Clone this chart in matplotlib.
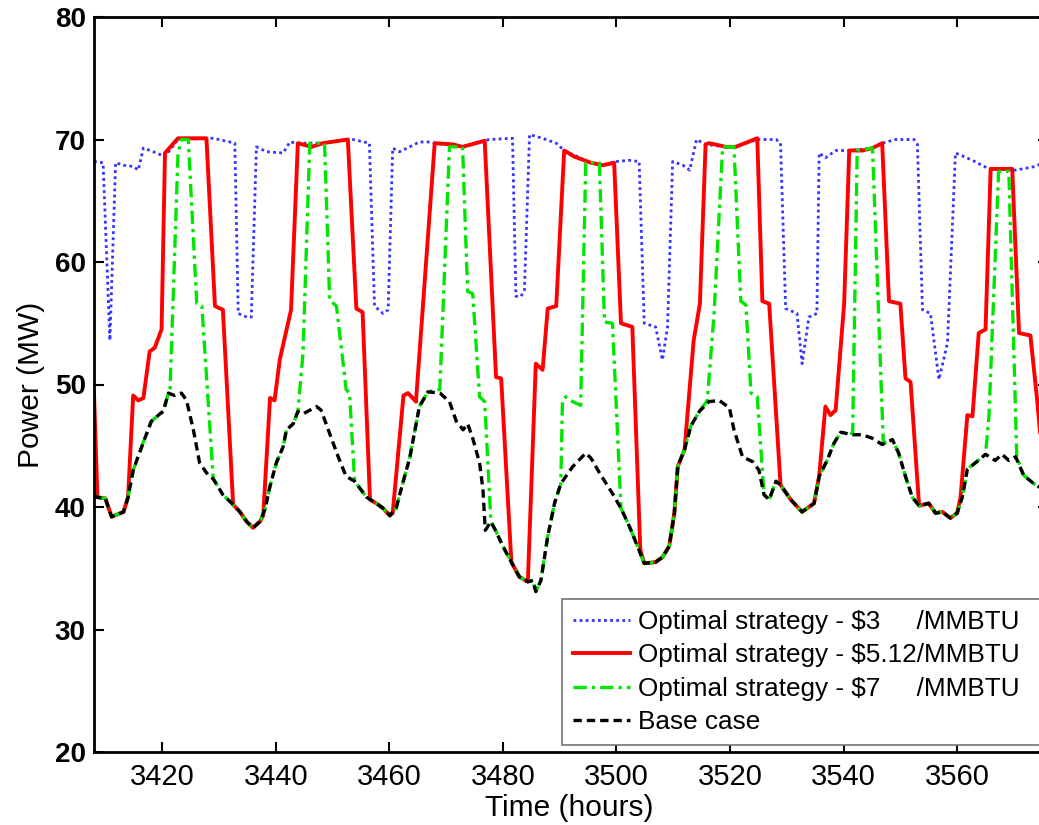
import numpy as np
import matplotlib
matplotlib.use("Agg")
import matplotlib.pyplot as plt

plt.rcParams['font.family'] = ['Liberation Sans', 'DejaVu Sans']

# (hour, MW) points
base_case = [
    (3408, 41.0), (3408.5, 40.8), (3410, 40.7), (3411.1, 39.2), (3413.2, 39.6), (3414, 40.8),
    (3414.9, 43.0), (3416.7, 45.3), (3418.1, 47.0), (3419.6, 47.6), (3420.2, 47.8), (3421.1, 49.3),
    (3422.2, 49.1), (3423.4, 49.3), (3424.3, 48.7), (3425.5, 46.3), (3426.6, 43.6), (3428.1, 42.6),
    (3429, 42.3), (3430.7, 41.0), (3432.5, 40.2), (3433.7, 39.6), (3434.9, 38.8), (3436, 38.3),
    (3437.2, 38.8), (3438.1, 39.8), (3439, 41.7), (3440.1, 43.6), (3441.3, 44.9), (3441.9, 46.3),
    (3443.1, 46.8), (3443.9, 47.8), (3444.8, 47.6), (3446, 47.9), (3447.2, 48.2), (3448, 47.9),
    (3449.5, 46.0), (3451, 44.1), (3452.4, 42.5), (3453.9, 42.1), (3456, 40.8), (3457.7, 40.3),
    (3458.9, 39.9), (3460.1, 39.3), (3461.2, 39.9), (3462.7, 42.5), (3463.6, 44.0), (3465.3, 48.2),
    (3466.8, 49.4), (3468.9, 49.3), (3470.6, 48.6), (3471.8, 47.0), (3473, 46.3), (3473.8, 46.8),
    (3474.7, 45.6), (3475.9, 43.6), (3476.5, 41.4), (3476.9, 38.1), (3477.9, 38.8), (3478.8, 38.0),
    (3480, 36.8), (3481.5, 35.5), (3482.9, 34.3), (3484.4, 33.9), (3485.3, 34.0), (3485.8, 33.1),
    (3486.7, 34.0), (3487.9, 37.6), (3489.1, 40.3), (3490.2, 41.9), (3492.3, 43.3), (3494.6, 44.4),
    (3495.5, 44.0), (3497, 42.8), (3499.3, 41.1), (3500.8, 39.9), (3502.3, 38.4), (3503.7, 36.8),
    (3504.9, 35.4), (3506.9, 35.5), (3508.1, 35.9), (3509.3, 36.8), (3510.2, 39.5), (3510.8, 43.3),
    (3512, 44.7), (3513.1, 46.6), (3514.6, 47.8), (3516.3, 48.6), (3518.1, 48.7), (3519.9, 48.1),
    (3520.7, 46.3), (3522.2, 44.1), (3524, 43.7), (3525.1, 43.0), (3526, 41.0), (3526.9, 40.6),
    (3528.1, 42.1), (3528.9, 41.8), (3530.7, 40.6), (3532.7, 39.6), (3534.8, 40.3), (3535.7, 42.5),
    (3537.1, 43.8), (3538.3, 45.2), (3539.5, 46.1), (3541.6, 45.9), (3543.3, 45.9), (3545.1, 45.6),
    (3546.8, 45.1), (3548.6, 45.5), (3549.7, 44.4), (3550.9, 42.5), (3552.1, 40.8), (3553.3, 40.1),
    (3555, 40.3), (3556.2, 39.5), (3557.4, 39.6), (3558.8, 39.1), (3560, 39.5), (3560.9, 40.8),
    (3561.8, 43.1), (3563.2, 43.6), (3565, 44.3), (3566.7, 43.8), (3567.9, 44.3), (3569.1, 43.8),
    (3570.3, 44.1), (3571.7, 42.6), (3573.5, 41.9), (3576, 41.2),
]

opt_512 = [
    (3408, 49.3), (3408.6, 40.8), (3410, 40.7), (3411.1, 39.2), (3413.2, 39.6), (3414, 40.8),
    (3414.9, 49.1), (3415.8, 48.7), (3416.7, 48.9), (3417.8, 52.7), (3418.7, 53.0), (3419.9, 54.5),
    (3420.5, 68.9), (3422.8, 70.1), (3427.8, 70.1), (3429.3, 56.4), (3430.7, 56.1), (3432.5, 40.2),
    (3433.7, 39.6), (3434.9, 38.8), (3436, 38.3), (3437.2, 38.8), (3437.8, 39.3), (3439, 48.9),
    (3439.8, 48.7), (3440.7, 52.0), (3442.7, 56.1), (3443.9, 69.7), (3446.3, 69.4), (3448.3, 69.7),
    (3452.7, 70.0), (3454.2, 56.2), (3455.3, 55.9), (3456.6, 40.6), (3457.7, 40.3), (3458.9, 39.9),
    (3460.1, 39.3), (3460.6, 39.5), (3462.5, 49.1), (3463.3, 49.3), (3464.7, 48.6), (3468, 69.7),
    (3471.2, 69.6), (3472.9, 69.4), (3476.8, 69.9), (3478.8, 50.6), (3479.7, 50.5), (3481.5, 35.5),
    (3482.9, 34.3), (3484.4, 33.9), (3485.8, 51.7), (3487, 51.2), (3487.9, 56.2), (3489.4, 56.4),
    (3490.8, 69.1), (3492.6, 68.6), (3495.5, 68.1), (3497.6, 67.9), (3499.6, 68.1), (3500.8, 55.0),
    (3502.8, 54.7), (3504.2, 36.5), (3504.9, 35.4), (3506.9, 35.5), (3508.1, 35.9), (3509.3, 36.8),
    (3510.2, 39.5), (3510.8, 43.3), (3512, 44.7), (3513.6, 53.6), (3514.7, 56.6), (3515.7, 69.6),
    (3516.3, 69.7), (3519.3, 69.4), (3521, 69.4), (3524.8, 70.1), (3525.7, 56.8), (3526.9, 56.6),
    (3528.9, 41.8), (3530.7, 40.6), (3532.7, 39.6), (3534.8, 40.3), (3535.7, 42.5), (3536.8, 48.2),
    (3537.7, 47.5), (3538.6, 47.9), (3540.1, 56.6), (3541, 69.1), (3543.3, 69.1), (3545.1, 69.3),
    (3546.8, 69.7), (3548, 56.8), (3550, 56.6), (3550.9, 50.5), (3551.8, 50.2), (3553.3, 40.1),
    (3555, 40.3), (3556.2, 39.5), (3557.4, 39.6), (3558.8, 39.1), (3560, 39.5), (3560.6, 40.8),
    (3561.8, 47.5), (3562.7, 47.4), (3563.8, 54.2), (3565, 54.5), (3565.9, 67.6), (3569.7, 67.6),
    (3570.9, 54.2), (3572.9, 54.0), (3574.1, 48.7), (3575, 44.0), (3576, 41.5),
]

opt_7 = [
    (3408, 41.0), (3408.5, 40.8), (3410, 40.7), (3411.1, 39.2), (3413.2, 39.6), (3414, 40.8),
    (3414.9, 43.0), (3416.7, 45.3), (3418.1, 47.0), (3419.6, 47.6), (3420.2, 47.8), (3421.1, 49.3),
    (3421.4, 49.7), (3422.8, 68.9), (3423.4, 70.0), (3424.6, 70.0), (3426.1, 56.6), (3427, 56.4),
    (3429, 42.3), (3430.7, 41.0), (3432.5, 40.2), (3433.7, 39.6), (3434.9, 38.8), (3436, 38.3),
    (3437.2, 38.8), (3438.1, 39.8), (3439, 41.7), (3440.1, 43.6), (3441.3, 44.9), (3441.9, 46.3),
    (3443.1, 46.8), (3443.9, 47.8), (3444.8, 52.5), (3446, 69.7), (3448.6, 69.7), (3449.5, 56.9),
    (3450.7, 56.4), (3452.4, 49.6), (3453, 49.3), (3453.9, 42.1), (3456, 40.8), (3457.7, 40.3),
    (3458.9, 39.9), (3460.1, 39.3), (3461.2, 39.9), (3462.7, 42.5), (3463.6, 44.0), (3465.3, 48.2),
    (3466.8, 49.4), (3468.9, 49.6), (3470.6, 69.4), (3472.9, 69.4), (3473.8, 57.6), (3474.7, 57.4),
    (3475.9, 49.0), (3476.8, 48.6), (3477.9, 38.8), (3478.8, 38.0), (3480, 36.8), (3481.5, 35.5),
    (3482.9, 34.3), (3484.4, 33.9), (3485.3, 34.0), (3485.8, 33.1), (3486.7, 34.0), (3487.9, 37.6),
    (3489.1, 40.3), (3490.2, 41.9), (3490.5, 48.7), (3491.1, 49.0), (3492.3, 48.6), (3493.7, 48.3),
    (3494.6, 68.1), (3497, 68.1), (3497.9, 55.1), (3499.3, 55.0), (3500.8, 39.9), (3502.3, 38.4),
    (3503.7, 36.8), (3504.9, 35.4), (3506.9, 35.5), (3508.1, 35.9), (3509.3, 36.8), (3510.2, 39.5),
    (3510.8, 43.3), (3512, 44.7), (3513.1, 46.6), (3514.6, 47.8), (3516, 48.7), (3517.2, 55.8),
    (3518.7, 69.4), (3520.7, 69.4), (3521.9, 56.8), (3522.8, 56.5), (3523.7, 49.3), (3524.8, 49.0),
    (3526, 41.0), (3526.9, 40.6), (3528.1, 42.1), (3528.9, 41.8), (3530.7, 40.6), (3532.7, 39.6),
    (3534.8, 40.3), (3535.7, 42.5), (3537.1, 43.8), (3538.3, 45.2), (3539.5, 46.1), (3541.6, 46.0),
    (3542.4, 69.1), (3545.1, 69.3), (3547, 45.2), (3548.6, 45.5), (3549.7, 44.4), (3550.9, 42.5),
    (3552.1, 40.8), (3553.3, 40.1), (3555, 40.3), (3556.2, 39.5), (3557.4, 39.6), (3558.8, 39.1),
    (3560, 39.5), (3560.9, 40.8), (3561.8, 43.1), (3563.2, 43.6), (3565, 44.3), (3565.6, 47.4),
    (3567.3, 67.4), (3569.1, 67.4), (3570.5, 44.1), (3571.7, 42.6), (3573.5, 41.9), (3576, 41.2),
]

opt_3 = [
    (3408, 68.2), (3409.6, 68.1), (3410.8, 53.6), (3411.8, 68.1), (3413.2, 67.9), (3414.9, 67.8),
    (3415.8, 67.5), (3416.7, 69.3), (3419, 68.9), (3420.5, 68.6), (3422.8, 70.0), (3427.8, 70.1),
    (3429, 70.1), (3431.9, 69.8), (3432.8, 69.7), (3433.4, 55.8), (3434.9, 55.5), (3435.7, 55.5),
    (3436.6, 69.4), (3438.4, 69.0), (3441.3, 68.9), (3442.5, 69.8), (3443.9, 69.7), (3448.3, 69.7),
    (3452.7, 70.0), (3453.6, 70.0), (3456.5, 69.7), (3457.4, 56.4), (3458.9, 55.8), (3459.8, 56.1),
    (3460.6, 69.3), (3461.8, 69.0), (3463.6, 69.4), (3465.3, 69.8), (3467.1, 69.8), (3468, 69.7),
    (3472.9, 69.4), (3477.6, 70.0), (3481.7, 70.1), (3482.3, 57.2), (3483.2, 57.2), (3483.8, 57.7),
    (3484.7, 70.4), (3487, 70.1), (3489.4, 69.7), (3490.8, 69.1), (3495.5, 68.1), (3497.6, 67.9),
    (3499.9, 68.2), (3502.3, 68.3), (3504, 68.2), (3504.9, 55.0), (3506.9, 54.7), (3508.1, 52.0),
    (3509, 54.7), (3509.9, 68.2), (3511.7, 67.9), (3512.9, 67.5), (3514.1, 70.0), (3515.7, 69.6),
    (3519.3, 69.4), (3521, 69.4), (3524.8, 70.0), (3528.1, 70.0), (3528.9, 69.7), (3529.8, 56.2),
    (3531.8, 55.8), (3532.7, 51.7), (3533.9, 55.5), (3535.3, 55.8), (3535.7, 68.9), (3536.8, 68.5),
    (3538.6, 69.1), (3541, 69.1), (3545.1, 69.3), (3546.8, 69.7), (3549.1, 70.0), (3552.4, 70.0),
    (3553, 69.6), (3553.9, 56.1), (3555.3, 55.8), (3556.8, 50.4), (3558.3, 53.4), (3559.7, 68.9),
    (3562.7, 68.3), (3565.6, 67.6), (3570.3, 67.5), (3573.8, 67.8), (3576, 68.3),
]

labels = [
    r"Optimal strategy - \$3     /MMBTU",
    r"Optimal strategy - \$5.12/MMBTU",
    r"Optimal strategy - \$7     /MMBTU",
    "Base case",
]

x_ticks = [3420, 3440, 3460, 3480, 3500, 3520, 3540, 3560]
y_ticks = [20, 30, 40, 50, 60, 70, 80]


def xy(points):
    arr = np.array(points)
    return arr[:, 0], arr[:, 1]


fig = plt.figure(figsize=(10.39, 8.25), dpi=100)
# axes run a bit past the right edge of the figure, as in the cropped original
ax = fig.add_axes([94 / 1039, 73 / 825, 954 / 1039, 735 / 825])

h, v = xy(opt_3)
ax.plot(h, v, color=(0.2, 0.2, 1.0), linestyle=(0, (1, 1.2)), lw=2.0, label=labels[0])
h, v = xy(opt_512)
ax.plot(h, v, color='red', linestyle='-', lw=2.8, label=labels[1])
h, v = xy(opt_7)
ax.plot(h, v, color=(0.0, 0.9, 0.0), linestyle=(0, (4, 1.5, 1, 1.5)), lw=2.4, label=labels[2])
h, v = xy(base_case)
ax.plot(h, v, color='black', linestyle=(0, (2.5, 1.5)), lw=2.4, label=labels[3])

ax.set_xlim(3408, 3576)
ax.set_ylim(20, 80)
ax.set_xticks(x_ticks)
ax.set_yticks(y_ticks)
ax.tick_params(direction='in', length=7, width=1.5, top=True, right=True)
ax.tick_params(axis='x', labelsize=21, pad=8)
ax.tick_params(axis='y', labelsize=20, pad=6)
for t in ax.get_yticklabels():
    t.set_fontweight('bold')
for s in ax.spines.values():
    s.set_linewidth(2.0)

ax.set_xlabel("Time (hours)", fontsize=21.5)
ax.set_ylabel("Power (MW)", fontsize=21.5)
ax.xaxis.set_label_coords(0.498, -0.057)
ax.yaxis.set_label_coords(-0.051, 0.5)

leg = ax.legend(loc='lower left', bbox_to_anchor=(0.4906, 0.0095, 0.5016, 0.2), mode='expand',
                fontsize=18.8, fancybox=False, framealpha=1, edgecolor='0.45',
                handlelength=2.2, handletextpad=0.3, labelspacing=0.36, borderpad=0.42,
                borderaxespad=0)
leg.get_frame().set_linewidth(1.2)

fig.savefig("out.png", dpi=100)
